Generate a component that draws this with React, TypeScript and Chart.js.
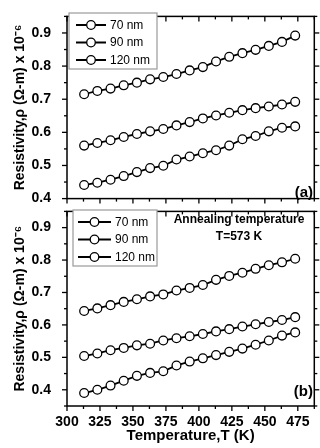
import React, { useEffect, useRef } from "react";
import { Chart, registerables } from "chart.js";

Chart.register(...registerables);

// ---------- data ----------
const temperatures = [313, 323, 333, 343, 353, 363, 373, 383, 393, 403, 413, 423, 433, 443, 453, 463, 473];
const seriesLabels = ["70 nm", "90 nm", "120 nm"];

const panelA70 = [0.715, 0.725, 0.732, 0.742, 0.750, 0.760, 0.767, 0.776, 0.787, 0.797, 0.814, 0.828, 0.839, 0.849, 0.861, 0.873, 0.892];
const panelA90 = [0.560, 0.568, 0.576, 0.586, 0.595, 0.603, 0.610, 0.621, 0.631, 0.642, 0.651, 0.659, 0.667, 0.673, 0.678, 0.684, 0.692];
const panelA120 = [0.441, 0.448, 0.457, 0.468, 0.480, 0.492, 0.499, 0.518, 0.527, 0.537, 0.546, 0.560, 0.579, 0.589, 0.603, 0.614, 0.618];

const panelB70 = [0.643, 0.651, 0.661, 0.671, 0.679, 0.688, 0.694, 0.706, 0.714, 0.723, 0.739, 0.751, 0.761, 0.773, 0.784, 0.793, 0.804];
const panelB90 = [0.504, 0.512, 0.522, 0.529, 0.537, 0.542, 0.552, 0.559, 0.565, 0.572, 0.580, 0.587, 0.595, 0.602, 0.609, 0.615, 0.624];
const panelB120 = [0.390, 0.400, 0.413, 0.428, 0.443, 0.452, 0.457, 0.475, 0.487, 0.497, 0.507, 0.517, 0.527, 0.539, 0.552, 0.567, 0.577];

const xTickValues = [300, 325, 350, 375, 400, 425, 450, 475];
const yTickValues = [0.4, 0.5, 0.6, 0.7, 0.8, 0.9];
const xRange = [300, 487.5];
const yRangeA = [0.4, 0.95];
const yRangeB = [0.35, 0.95];

const yTitle = "Resistivity,\u03C1 (\u03A9-m) x 10\u207B\u2076";
const xTitle = "Temperature,T (K)";
const panelTags = ["(a)", "(b)"];
const annotationLines = ["Annealing temperature", "T=573 K"];

// ---------- styling ----------
const FONT = "'Liberation Sans', Arial, Helvetica, sans-serif";

function minorTicks(majors: number[], min: number, max: number): number[] {
  const step = majors[1] - majors[0];
  const out: number[] = [];
  for (let k = -2; k < majors.length + 3; k++) {
    const v = majors[0] + step * (k + 0.5);
    if (v >= min - 1e-9 && v <= max + 1e-9) out.push(v);
  }
  return out;
}

const framePlugin = {
  id: "frame",
  afterDatasetsDraw(chart: any, _args: any, opts: any) {
    const { ctx, chartArea, scales } = chart;
    const { left, right, top, bottom } = chartArea;
    const xs = scales.x;
    const ys = scales.y;
    ctx.save();
    ctx.strokeStyle = "#000";
    ctx.lineWidth = 1.5;
    ctx.strokeRect(left, top, right - left, bottom - top);

    ctx.lineWidth = 1.3;
    const seg = (x1: number, y1: number, x2: number, y2: number) => {
      ctx.beginPath();
      ctx.moveTo(x1, y1);
      ctx.lineTo(x2, y2);
      ctx.stroke();
    };
    xTickValues.forEach((v) => {
      const px = xs.getPixelForValue(v);
      seg(px, top, px, top + 5);
      seg(px, bottom, px, bottom + 5);
    });
    minorTicks(xTickValues, xs.min, xs.max).forEach((v) => {
      const px = xs.getPixelForValue(v);
      seg(px, top, px, top + 3);
      seg(px, bottom, px, bottom + 3);
    });
    yTickValues.forEach((v) => {
      const py = ys.getPixelForValue(v);
      seg(left - 5, py, left, py);
      seg(right, py, right + 5, py);
    });
    minorTicks(yTickValues, ys.min, ys.max).forEach((v) => {
      const py = ys.getPixelForValue(v);
      seg(left - 3, py, left, py);
      seg(right, py, right + 3, py);
    });

    // legend box
    const lg = opts.legend;
    if (lg) {
      ctx.fillStyle = "#fff";
      ctx.fillRect(lg.x, lg.y, lg.w, lg.h);
      ctx.strokeStyle = "#9a9a9a";
      ctx.lineWidth = 1.2;
      ctx.strokeRect(lg.x, lg.y, lg.w, lg.h);
      ctx.font = `12px ${FONT}`;
      ctx.textBaseline = "middle";
      ctx.textAlign = "left";
      chart.data.datasets.forEach((ds: any, i: number) => {
        const ry = lg.rows[i];
        ctx.strokeStyle = "#000";
        ctx.lineWidth = 2;
        seg(lg.x0, ry, lg.x1, ry);
        const cx = (lg.x0 + lg.x1) / 2;
        ctx.beginPath();
        ctx.arc(cx, ry, 4.3, 0, Math.PI * 2);
        ctx.fillStyle = "#fff";
        ctx.fill();
        ctx.lineWidth = 1.3;
        ctx.stroke();
        ctx.fillStyle = "#000";
        ctx.fillText(ds.label, lg.tx, ry + 0.5);
      });
    }

    // panel tag
    if (opts.tag) {
      ctx.fillStyle = "#000";
      ctx.font = `bold 15px ${FONT}`;
      ctx.textAlign = "right";
      ctx.textBaseline = "middle";
      ctx.fillText(opts.tag, opts.tagX, opts.tagY);
    }

    // notes
    if (opts.notes) {
      ctx.fillStyle = "#000";
      ctx.font = `bold 12px ${FONT}`;
      ctx.textAlign = "center";
      ctx.textBaseline = "middle";
      opts.notes.forEach((t: string, i: number) => {
        ctx.fillText(t, opts.notesX, opts.notesY[i]);
      });
    }
    ctx.restore();
  },
};

function makeDatasets(values: number[][]) {
  return values.map((vals, i) => ({
    label: seriesLabels[i],
    data: temperatures.map((t, j) => ({ x: t, y: vals[j] })),
    borderColor: "#000",
    borderWidth: 1.8,
    pointRadius: 4.4,
    pointBackgroundColor: "#fff",
    pointBorderColor: "#000",
    pointBorderWidth: 1.3,
    tension: 0,
    fill: false,
  }));
}

function makeConfig(
  values: number[][],
  yRange: number[],
  showX: boolean,
  xHeight: number,
  frameOpts: any
): any {
  return {
    type: "line",
    data: { datasets: makeDatasets(values) },
    plugins: [framePlugin],
    options: {
      animation: false,
      responsive: false,
      maintainAspectRatio: false,
      events: [],
      layout: { padding: { top: 10, right: 3.3, left: 0, bottom: 0 } },
      plugins: {
        legend: { display: false },
        tooltip: { enabled: false },
        frame: frameOpts,
      },
      scales: {
        x: {
          type: "linear",
          min: xRange[0],
          max: xRange[1],
          grid: { display: false },
          border: { display: false },
          ticks: {
            display: showX,
            color: "#000",
            padding: 0,
            maxRotation: 0,
            font: { family: FONT, size: 14, weight: "bold" },
            callback: (v: any) => String(v),
          },
          afterBuildTicks: (s: any) => {
            s.ticks = xTickValues.map((v) => ({ value: v }));
          },
          afterFit: (s: any) => {
            s.height = xHeight;
          },
          title: {
            display: showX,
            text: xTitle,
            color: "#000",
            font: { family: FONT, size: 15, weight: "bold" },
            padding: { top: 0, bottom: 3 },
          },
        },
        y: {
          type: "linear",
          min: yRange[0],
          max: yRange[1],
          grid: { display: false },
          border: { display: false },
          ticks: {
            color: "#000",
            padding: 8,
            font: { family: FONT, size: 14, weight: "bold" },
            callback: (v: any) => Number(v).toFixed(1),
          },
          afterBuildTicks: (s: any) => {
            s.ticks = yTickValues.map((v) => ({ value: v }));
          },
          afterFit: (s: any) => {
            s.width = 67;
          },
          title: {
            display: true,
            text: yTitle,
            color: "#000",
            font: { family: FONT, size: 14, weight: "bold" },
            padding: { top: 12, bottom: 0 },
          },
        },
      },
    },
  };
}

export default function App() {
  const refA = useRef<HTMLCanvasElement | null>(null);
  const refB = useRef<HTMLCanvasElement | null>(null);

  useEffect(() => {
    const chartA = new Chart(
      refA.current as HTMLCanvasElement,
      makeConfig([panelA70, panelA90, panelA120], yRangeA, false, 10, {
        legend: { x: 69, y: 13, w: 88, h: 56, rows: [25, 42.5, 60], x0: 76, x1: 106, tx: 110 },
        tag: panelTags[0],
        tagX: 313,
        tagY: 193,
      })
    );
    const chartB = new Chart(
      refB.current as HTMLCanvasElement,
      makeConfig([panelB70, panelB90, panelB120], yRangeB, true, 42, {
        legend: { x: 73, y: 15, w: 84, h: 56, rows: [27, 44.5, 62], x0: 78, x1: 111, tx: 115 },
        tag: panelTags[1],
        tagX: 313,
        tagY: 197,
        notes: annotationLines,
        notesX: 239,
        notesY: [25, 42],
      })
    );
    return () => {
      chartA.destroy();
      chartB.destroy();
    };
  }, []);

  return (
    <div
      style={{
        position: "absolute",
        left: 0,
        top: 0,
        width: 320,
        height: 448,
        background: "#fff",
        overflow: "hidden",
      }}
    >
      <canvas
        ref={refA}
        width={320}
        height={215}
        style={{ position: "absolute", left: 0, top: 0, width: 320, height: 215, display: "block" }}
      />
      <canvas
        ref={refB}
        width={320}
        height={253}
        style={{ position: "absolute", left: 0, top: 195, width: 320, height: 253, display: "block" }}
      />
    </div>
  );
}
